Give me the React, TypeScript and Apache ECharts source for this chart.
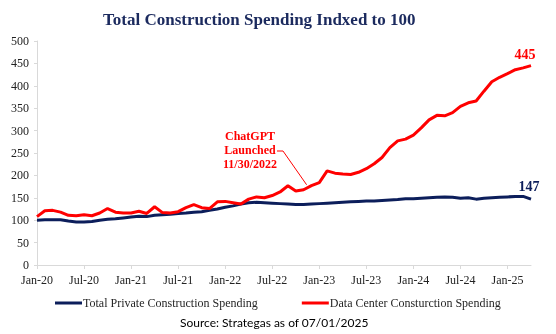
import React, { useEffect, useRef } from 'react';
import * as echarts from 'echarts';

const MONTH_NAMES = ['Jan', 'Feb', 'Mar', 'Apr', 'May', 'Jun', 'Jul', 'Aug', 'Sep', 'Oct', 'Nov', 'Dec'];
const categories: string[] = [];
for (let y = 20; y <= 25; y++) {
  for (let m = 0; m < 12; m++) {
    if (y === 25 && m > 3) break;
    categories.push(`${MONTH_NAMES[m]}-${y}`);
  }
}

const privateSpending = [
  100, 101, 101, 101, 98, 96, 96, 97, 100, 102, 103, 105,
  107, 109, 108, 111, 112, 113, 115, 116, 118, 119, 122, 125,
  129, 132, 136, 139, 140, 139, 138, 137, 136, 135, 135, 136,
  137, 138, 139, 140, 141, 142, 143, 143, 144, 145, 146, 148,
  148, 149, 150, 151, 152, 151, 149, 150, 147, 149, 150, 151,
  152, 153, 153, 147,
];

const dataCenterSpending = [
  108, 121, 122, 118, 111, 110, 112, 110, 116, 126, 118, 116,
  116, 120, 115, 130, 117, 116, 119, 128, 135, 128, 126, 141,
  142, 139, 136, 147, 152, 150, 155, 163, 177, 165, 168, 177,
  184, 210, 205, 203, 202, 207, 215, 226, 240, 262, 277, 281,
  290, 306, 324, 334, 333, 340, 354, 362, 366, 388, 409, 419,
  427, 436, 440, 445,
];

const yTicks = { min: 0, max: 500, interval: 50 };
const annotationIndex = 34; // Nov-22
const annotationText = 'ChatGPT\nLaunched\n11/30/2022';
const sourceText = 'Source: Strategas as of 07/01/2025';

const NAVY = '#0C1E5B';
const RED = '#FF0000';
const SERIF = '"Liberation Serif", "Times New Roman", serif';

export default function App() {
  const ref = useRef<HTMLDivElement>(null);
  useEffect(() => {
    if (!ref.current) return;
    const chart = echarts.init(ref.current, undefined, { renderer: 'svg' });
    const last = categories.length - 1;
    chart.setOption({
      animation: false,
      title: {
        text: 'Total Construction Spending Indxed to 100',
        left: 98,
        top: 6,
        textStyle: { fontFamily: SERIF, fontSize: 17, fontWeight: 'bold', color: '#1B2A5E' },
      },
      grid: { left: 37, right: 25, top: 41, bottom: 69 },
      legend: {
        left: 50,
        top: 292,
        icon: 'rect',
        itemWidth: 27,
        itemHeight: 3,
        itemGap: 44,
        textStyle: { fontFamily: SERIF, fontSize: 12, color: '#262626', padding: [0, 0, 0, -4] },
        data: ['Total Private Construction Spending', 'Data Center Consturction Spending'],
      },
      xAxis: {
        type: 'category',
        data: categories,
        boundaryGap: false,
        axisLine: { lineStyle: { color: '#D9D9D9' } },
        axisTick: { interval: 5, length: 4, lineStyle: { color: '#D9D9D9' } },
        axisLabel: { interval: 5, margin: 9, fontFamily: SERIF, fontSize: 12, color: '#222' },
        splitLine: { show: false },
      },
      yAxis: {
        type: 'value',
        min: yTicks.min,
        max: yTicks.max,
        interval: yTicks.interval,
        axisLine: { show: true, lineStyle: { color: '#D9D9D9' } },
        axisTick: { show: true, length: 3, lineStyle: { color: '#D9D9D9' } },
        axisLabel: { margin: 8, fontFamily: SERIF, fontSize: 12, color: '#222' },
        splitLine: { show: false },
      },
      series: [
        {
          name: 'Total Private Construction Spending',
          type: 'line',
          data: privateSpending,
          symbol: 'none',
          lineStyle: { color: NAVY, width: 3 },
          itemStyle: { color: NAVY },
          z: 3,
          markPoint: {
            symbol: 'circle',
            symbolSize: 0,
            data: [{ coord: [categories[last], privateSpending[last]], value: privateSpending[last] }],
            label: {
              show: true,
              position: 'top',
              distance: 6,
              offset: [-2, 0],
              formatter: '{c}',
              fontFamily: SERIF,
              fontSize: 14,
              fontWeight: 'bold',
              color: NAVY,
            },
          },
        },
        {
          name: 'Data Center Consturction Spending',
          type: 'line',
          data: dataCenterSpending,
          symbol: 'none',
          lineStyle: { color: RED, width: 3 },
          itemStyle: { color: RED },
          z: 4,
          markPoint: {
            symbol: 'circle',
            symbolSize: 0,
            data: [{ coord: [categories[last], dataCenterSpending[last]], value: dataCenterSpending[last] }],
            label: {
              show: true,
              position: 'top',
              distance: 4,
              offset: [-6, 0],
              formatter: '{c}',
              fontFamily: SERIF,
              fontSize: 14,
              fontWeight: 'bold',
              color: RED,
            },
          },
        },
      ],
    });

    const p = chart.convertToPixel({ gridIndex: 0 }, [annotationIndex, dataCenterSpending[annotationIndex]]) as number[];
    chart.setOption({
      graphic: [
        {
          type: 'text',
          left: 'auto',
          x: 250,
          y: 129,
          style: {
            text: annotationText,
            font: `bold 12px ${SERIF}`,
            fill: RED,
            align: 'center',
            verticalAlign: 'top',
            lineHeight: 14,
          },
        },
        {
          type: 'polyline',
          shape: { points: [[277, 151], [283, 151], [p[0] + 3, p[1] - 5]] },
          style: { stroke: RED, lineWidth: 1, fill: 'none' },
        },
        {
          type: 'text',
          x: 180,
          y: 322,
          style: {
            text: sourceText,
            font: '12px Lato, "Noto Sans", sans-serif',
            fill: '#000',
            align: 'left',
            verticalAlign: 'middle',
          },
        },
      ],
    });

    return () => chart.dispose();
  }, []);
  return <div ref={ref} style={{ position: 'fixed', left: 0, top: 0, width: 556, height: 334 }} />;
}
